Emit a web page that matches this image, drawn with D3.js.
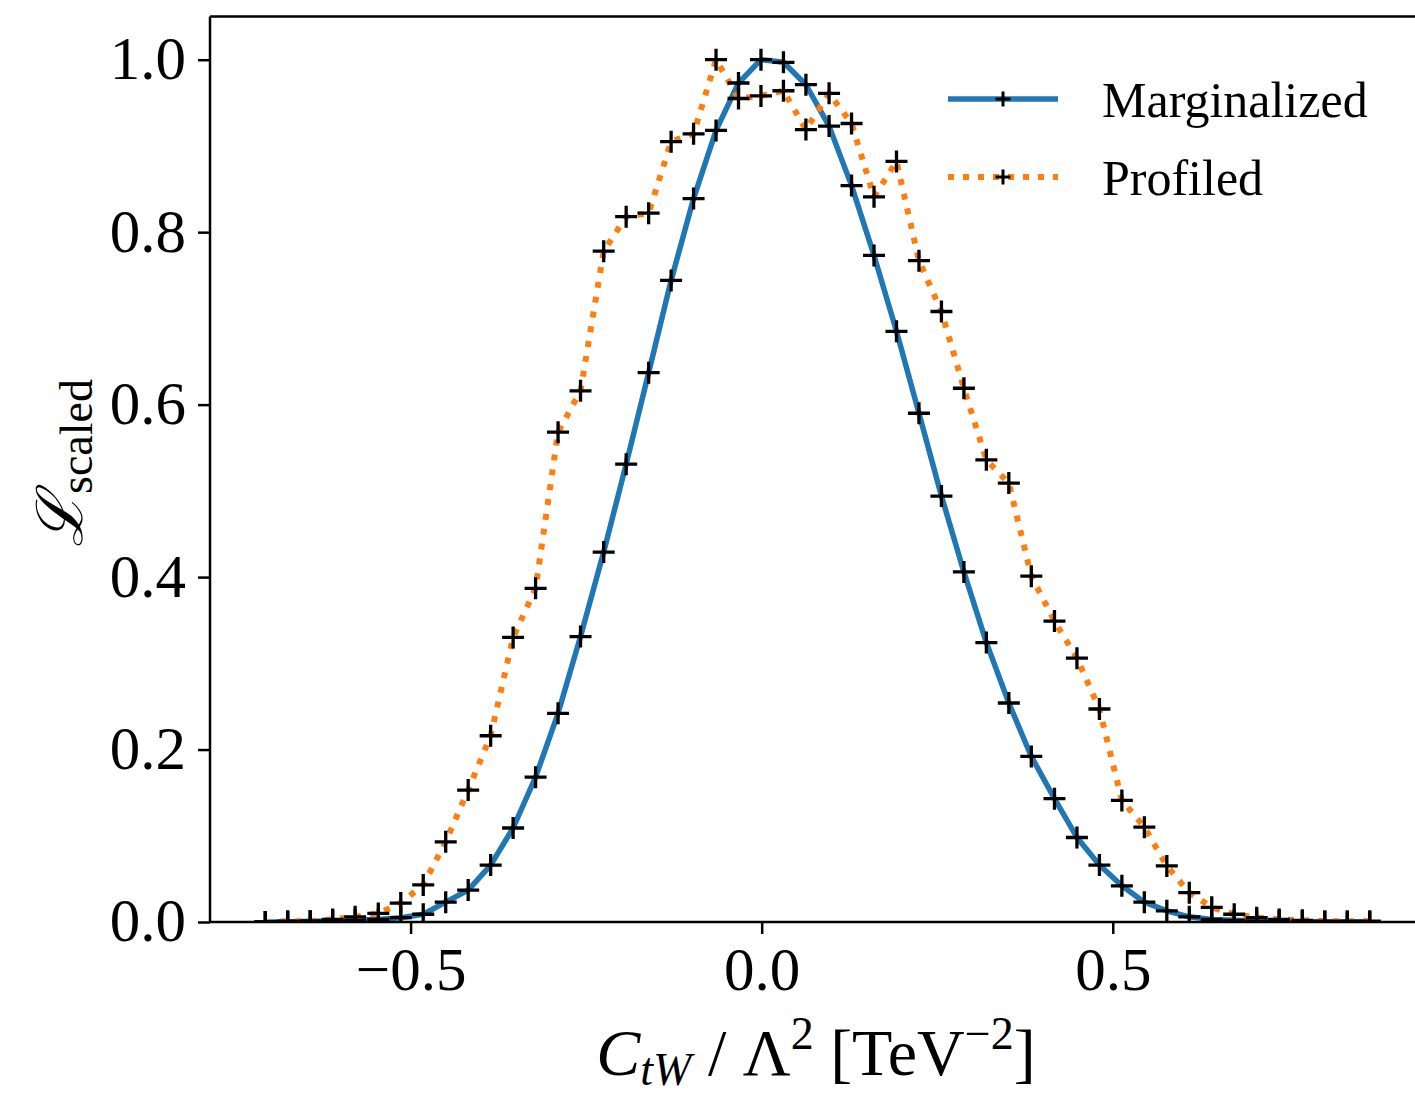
<!DOCTYPE html>
<html><head><meta charset="utf-8">
<script src="https://cdn.jsdelivr.net/npm/d3@7"></script>
<style>body{margin:0;background:#fff} svg{display:block}</style>
</head><body><svg id="c" width="1415" height="1096"></svg>
<script>
const xValues = [-0.707,-0.675,-0.643,-0.611,-0.579,-0.546,-0.514,-0.482,-0.450,-0.418,
  -0.386,-0.354,-0.322,-0.290,-0.258,-0.225,-0.193,-0.161,-0.129,-0.097,
  -0.065,-0.033,-0.001,0.031,0.063,0.096,0.128,0.160,0.192,0.224,
  0.256,0.288,0.320,0.352,0.384,0.417,0.449,0.481,0.513,0.545,
  0.577,0.609,0.641,0.673,0.705,0.737,0.770,0.802,0.834,0.866];
const marginalized = [0.000,0.000,0.001,0.001,0.002,0.003,0.005,0.009,0.023,0.037,
  0.066,0.109,0.168,0.242,0.331,0.429,0.531,0.637,0.744,0.839,
  0.918,0.973,1.000,0.997,0.971,0.923,0.854,0.773,0.685,0.590,
  0.494,0.406,0.324,0.254,0.192,0.143,0.098,0.066,0.042,0.023,
  0.013,0.006,0.003,0.002,0.001,0.001,0.000,0.000,0.000,0.000];
const profiled = [0.000,0.001,0.001,0.003,0.006,0.010,0.022,0.043,0.093,0.153,
  0.216,0.330,0.387,0.568,0.616,0.778,0.818,0.822,0.905,0.914,
  1.000,0.955,0.958,0.964,0.919,0.961,0.926,0.841,0.882,0.767,
  0.708,0.619,0.536,0.509,0.401,0.349,0.306,0.247,0.141,0.110,
  0.065,0.034,0.017,0.009,0.005,0.003,0.002,0.001,0.001,0.001];
const xTicks = [-0.5, 0.0, 0.5];
const yTicks = [0.0, 0.2, 0.4, 0.6, 0.8, 1.0];
const seriesNames = ["Marginalized", "Profiled"];
const seriesColors = ["#1f77b4", "#ff7f0e"];

const W = 1415, H = 1096;
const L = 210, R = 1425, T = 16.6, B = 922;
const FONT = "'Liberation Serif', 'DejaVu Serif', serif";
const svg = d3.select("#c");
svg.append("rect").attr("width", W).attr("height", H).attr("fill", "#fff");

const x = d3.scaleLinear().domain([-0.7857, 0.9447]).range([L, R]);
const y = d3.scaleLinear().domain([0, 1.05]).range([B, T]);

svg.append("defs").append("clipPath").attr("id", "clip")
  .append("rect").attr("x", L).attr("y", T).attr("width", R - L).attr("height", B - T);

const plot = svg.append("g").attr("clip-path", "url(#clip)");
const line = d3.line().x((d, i) => x(xValues[i])).y(d => y(d));

plot.append("path").datum(marginalized).attr("d", line)
  .attr("fill", "none").attr("stroke", seriesColors[0]).attr("stroke-width", 5.5)
  .attr("stroke-linejoin", "round");
plot.append("path").datum(profiled).attr("d", line)
  .attr("fill", "none").attr("stroke", seriesColors[1]).attr("stroke-width", 6)
  .attr("stroke-dasharray", "6 9");

const crossPath = s => `M${-s},0H${s}M0,${-s}V${s}`;
[marginalized, profiled].forEach(series => {
  plot.append("g").selectAll("path").data(series).join("path")
    .attr("transform", (d, i) => `translate(${x(xValues[i])},${y(d)})`)
    .attr("d", crossPath(11))
    .attr("stroke", "#000").attr("stroke-width", 3.3).attr("fill", "none");
});

// axes
const xAxis = d3.axisBottom(x).tickValues(xTicks).tickSize(12).tickPadding(13)
  .tickFormat(d3.format(".1f"));
const gx = svg.append("g").attr("transform", `translate(0,${B})`).call(xAxis);
gx.select(".domain").remove();
gx.selectAll(".tick line").attr("stroke", "#000").attr("stroke-width", 2.5);
gx.selectAll(".tick text").attr("font-family", FONT).attr("font-size", 61).attr("fill", "#000")
  .attr("dy", "0.71em");

const yAxis = d3.axisLeft(y).tickValues(yTicks).tickSize(12).tickPadding(12)
  .tickFormat(d3.format(".1f"));
const gy = svg.append("g").attr("transform", `translate(${L},0)`).call(yAxis);
gy.select(".domain").remove();
gy.selectAll(".tick line").attr("stroke", "#000").attr("stroke-width", 2.5);
gy.selectAll(".tick text").attr("font-family", FONT).attr("font-size", 61).attr("fill", "#000")
  .attr("dy", "0.31em");

// spines
const sp = svg.append("g").attr("stroke", "#000").attr("stroke-width", 2.5).attr("fill", "none");
sp.append("path").attr("d", `M${L},${B}H${R}`);
sp.append("path").attr("d", `M${L},${T}H${R}`);
sp.append("path").attr("d", `M${L},${T}V${B}`);
sp.append("path").attr("d", `M${R},${T}V${B}`);

// x label
const xl = svg.append("text").attr("x", 816).attr("y", 1075).attr("text-anchor", "middle")
  .attr("font-family", FONT).attr("font-size", 66).attr("fill", "#000");
xl.append("tspan").attr("font-style", "italic").text("C");
xl.append("tspan").attr("font-style", "italic").attr("font-size", 46).attr("dy", 10).text("tW");
xl.append("tspan").attr("dy", -10).text(" / Λ");
xl.append("tspan").attr("font-size", 46).attr("dy", -26).text("2");
xl.append("tspan").attr("dy", 26).text(" [TeV");
xl.append("tspan").attr("font-size", 46).attr("dy", -26).text("−2");
xl.append("tspan").attr("dy", 26).text("]");

// y label
const yl = svg.append("text").attr("transform", "translate(82,463) rotate(-90)")
  .attr("text-anchor", "middle").attr("font-family", FONT).attr("fill", "#000");
yl.append("tspan").attr("font-size", 64).attr("font-style", "italic").text("ℒ");
yl.append("tspan").attr("font-size", 46).attr("dy", 10).text("scaled");

// legend
const legRows = [
  {name: seriesNames[0], color: seriesColors[0], y: 99, dash: null, w: 5.5},
  {name: seriesNames[1], color: seriesColors[1], y: 177, dash: "6 9", w: 6}
];
const lg = svg.append("g");
legRows.forEach(r => {
  lg.append("path").attr("d", `M948,${r.y}H1058`).attr("stroke", r.color)
    .attr("stroke-width", r.w).attr("fill", "none")
    .attr("stroke-dasharray", r.dash);
  lg.append("path").attr("transform", `translate(1003,${r.y})`).attr("d", crossPath(7.5))
    .attr("stroke", "#000").attr("stroke-width", 3);
  lg.append("text").attr("x", 1102).attr("y", r.y + 18).attr("font-family", FONT)
    .attr("font-size", 50).attr("fill", "#000").text(r.name);
});
</script></body></html>
